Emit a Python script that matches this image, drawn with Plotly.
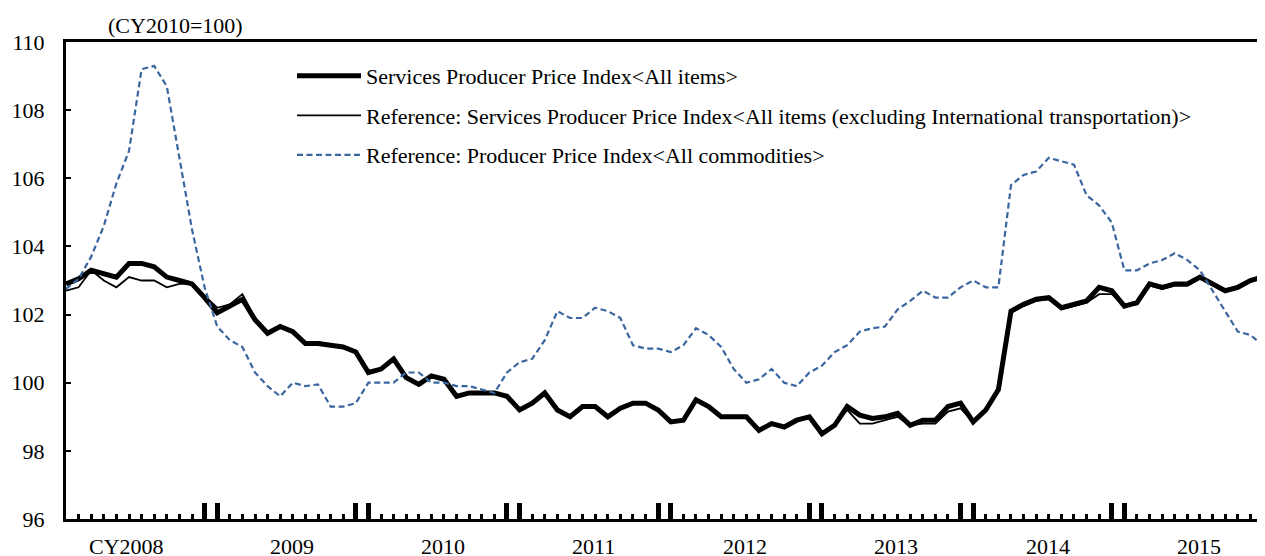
import plotly.graph_objects as go

# Months Jan 2008 .. Dec 2015 (category positions 0..95)
years = [2008, 2009, 2010, 2011, 2012, 2013, 2014, 2015]
year_labels = ["CY2008", "2009", "2010", "2011", "2012", "2013", "2014", "2015"]

sppi = [
    102.9, 103.05, 103.3, 103.2, 103.1, 103.5, 103.5, 103.4, 103.1, 103.0, 102.9, 102.5,
    102.05, 102.25, 102.45, 101.85, 101.45, 101.65, 101.5, 101.15, 101.15, 101.1, 101.05, 100.9,
    100.3, 100.4, 100.7, 100.15, 99.95, 100.2, 100.1, 99.6, 99.7, 99.7, 99.7, 99.6,
    99.2, 99.4, 99.7, 99.2, 99.0, 99.3, 99.3, 99.0, 99.25, 99.4, 99.4, 99.2,
    98.85, 98.9, 99.5, 99.3, 99.0, 99.0, 99.0, 98.6, 98.8, 98.7, 98.9, 99.0,
    98.5, 98.75, 99.3, 99.05, 98.95, 99.0, 99.1, 98.75, 98.9, 98.9, 99.3, 99.4,
    98.85, 99.2, 99.8, 102.1, 102.3, 102.45, 102.5, 102.2, 102.3, 102.4, 102.8, 102.7,
    102.25, 102.35, 102.9, 102.8, 102.9, 102.9, 103.1, 102.9, 102.7, 102.8, 103.0, 103.1,
]

sppi_ex_intl = [
    102.7, 102.8, 103.3, 103.0, 102.8, 103.1, 103.0, 103.0, 102.8, 102.9, 102.9, 102.55,
    102.2, 102.3, 102.6, 101.9, 101.5, 101.65, 101.5, 101.2, 101.2, 101.1, 101.05, 100.9,
    100.3, 100.4, 100.7, 100.15, 99.95, 100.2, 100.1, 99.6, 99.7, 99.7, 99.7, 99.6,
    99.2, 99.4, 99.7, 99.2, 99.0, 99.3, 99.3, 99.0, 99.25, 99.4, 99.4, 99.2,
    98.85, 98.9, 99.5, 99.3, 99.0, 99.0, 99.0, 98.6, 98.8, 98.7, 98.9, 99.0,
    98.5, 98.75, 99.2, 98.8, 98.8, 98.9, 99.0, 98.75, 98.8, 98.8, 99.15, 99.25,
    98.85, 99.15, 99.75, 102.05, 102.25, 102.4, 102.45, 102.15, 102.25, 102.35, 102.6, 102.6,
    102.25, 102.3, 102.85, 102.75, 102.85, 102.85, 103.05, 102.9, 102.7, 102.8, 103.0, 103.1,
]

ppi = [
    102.75, 103.05, 103.7, 104.6, 105.85, 106.8, 109.2, 109.3, 108.7, 106.6, 104.5, 102.8,
    101.65, 101.25, 101.05, 100.3, 99.9, 99.6, 100.0, 99.9, 99.95, 99.3, 99.3, 99.4,
    100.0, 100.0, 100.0, 100.3, 100.3, 100.0, 100.0, 99.9, 99.9, 99.8, 99.7, 100.3,
    100.6, 100.7, 101.25, 102.1, 101.9, 101.9, 102.2, 102.1, 101.9, 101.1, 101.0, 101.0,
    100.9, 101.1, 101.6, 101.4, 101.05, 100.4, 100.0, 100.1, 100.4, 100.0, 99.9, 100.3,
    100.5, 100.9, 101.1, 101.5, 101.6, 101.65, 102.15, 102.4, 102.7, 102.5, 102.5, 102.8,
    103.0, 102.8, 102.8, 105.8, 106.1, 106.2, 106.6, 106.5, 106.4, 105.5, 105.2, 104.7,
    103.3, 103.3, 103.5, 103.6, 103.8, 103.6, 103.3, 102.7, 102.1, 101.5, 101.4, 101.1,
]

names = [
    "Services Producer Price Index&lt;All items&gt;",
    "Reference: Services Producer Price Index&lt;All items (excluding International transportation)&gt;",
    "Reference: Producer Price Index&lt;All commodities&gt;",
]

n = len(sppi)
x = list(range(n))
FONT = "Liberation Serif, Times New Roman, serif"
BLUE = "#3A66A0"

fig = go.Figure()
fig.add_trace(go.Scatter(x=x, y=sppi, mode="lines", name=names[0], legendgroup="a",
                         line=dict(color="black", width=5)))
fig.add_trace(go.Scatter(x=x, y=sppi_ex_intl, mode="lines", name=names[1], legendgroup="b",
                         line=dict(color="black", width=1.8)))
fig.add_trace(go.Scatter(x=x, y=ppi, mode="lines", name=names[2], legendgroup="c",
                         line=dict(color=BLUE, width=2.2, dash="6px,3.5px")))

# year-boundary (Dec/Jan) thick ticks, monthly minor ticks
major = []
for j in range(len(years)):
    if j == 0:
        major.append(0)
    else:
        major += [12 * j - 1, 12 * j]
major.append(n - 1)

annotations = []
for j, lab in enumerate(year_labels):
    annotations.append(dict(x=12 * j + 5.9, y=0, xref="x", yref="paper", text=lab,
                            showarrow=False, xanchor="center", yanchor="middle", yshift=-27,
                            xshift=-14 if j == 0 else 0,
                            font=dict(family=FONT, size=22, color="black")))
annotations.append(dict(x=0.0913, y=1, xref="paper", yref="paper", text="(CY2010=100)",
                        showarrow=False, xanchor="center", yanchor="middle", yshift=17,
                        font=dict(family=FONT, size=22, color="black")))

# page body has an 8px margin: figure sized/offset to land on the 1265x556 window
fig.update_layout(
    width=1257, height=548,
    margin=dict(l=58, r=0, t=34, b=37),
    paper_bgcolor="white", plot_bgcolor="white",
    showlegend=True,
    legend=dict(x=0.1885, y=0.973, xanchor="left", yanchor="top",
                font=dict(family=FONT, size=22, color="black"),
                bgcolor="rgba(0,0,0,0)", tracegroupgap=8, itemwidth=64),
    annotations=annotations,
    xaxis=dict(range=[0, n - 1 + 0.16], showgrid=False, zeroline=False,
               showline=True, linecolor="black", linewidth=3, mirror=True,
               tickmode="array", tickvals=major, ticks="inside", ticklen=16,
               tickwidth=4.5, tickcolor="black", showticklabels=False,
               minor=dict(tickmode="array", tickvals=x, ticks="inside", ticklen=5,
                          tickwidth=2.5, tickcolor="black", showgrid=False)),
    yaxis=dict(range=[96, 110], dtick=2, tick0=96, showgrid=False, zeroline=False,
               showline=True, linecolor="black", linewidth=3,
               ticks="inside", ticklen=5, tickwidth=2, tickcolor="black",
               ticklabelstandoff=14,
               tickfont=dict(family=FONT, size=22, color="black")),
)

fig.write_html("out.html")
